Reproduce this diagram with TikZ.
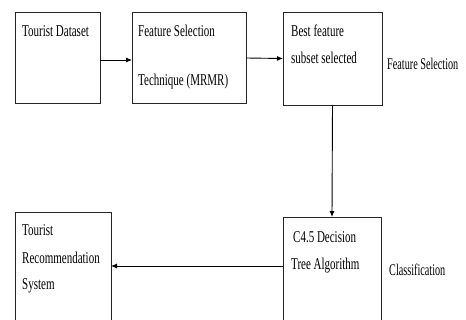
\documentclass[tikz,border=0pt]{standalone}
\usepackage{fontspec}
\setmainfont{Liberation Serif}
\usetikzlibrary{arrows.meta}
\newcommand{\tallt}[1]{\scalebox{1}[1.5]{#1}}
\newcommand{\tallside}[1]{\scalebox{1}[1.6]{#1}}
\begin{document}
\begin{tikzpicture}[x=1pt,y=-1pt,
  boxstyle/.style={draw=black!85,line width=0.9pt,inner sep=0pt,outer sep=0pt},
  txt/.style={anchor=base west,inner sep=0pt,font=\fontsize{11}{13}\selectfont},
  sidetxt/.style={anchor=base west,inner sep=0pt,font=\fontsize{10.2}{12}\selectfont},
  conn/.style={line width=0.9pt,-{Latex[length=6pt,width=5pt]}}]
\useasboundingbox (0,0) rectangle (466,320);
\clip (0,0) rectangle (466,320);
% boxes
\path[boxstyle] (15,12) rectangle (100,103);
\node[minimum width=85pt,minimum height=91pt,inner sep=0pt,outer sep=0pt] (b1) at (57.5,58) {};
\path[boxstyle] (132,12) rectangle (246,103);
\node[minimum width=114pt,minimum height=91pt,inner sep=0pt,outer sep=0pt] (b2) at (189,58) {};
\path[boxstyle] (283,12) rectangle (382,105);
\node[minimum width=99pt,minimum height=93pt,inner sep=0pt,outer sep=0pt] (b3) at (332.5,58.5) {};
\path[boxstyle] (15,212) rectangle (111,340);
\node[minimum width=96pt,minimum height=108pt,inner sep=0pt,outer sep=0pt] (b4) at (63,266) {};
\path[boxstyle] (283,217) rectangle (381,340);
\node[minimum width=98pt,minimum height=98pt,inner sep=0pt,outer sep=0pt] (b5) at (332,266) {};
% texts
\node[txt] (t1) at (22,37) {\tallt{Tourist Dataset}};
\node[txt] (t2a) at (138,37) {\tallt{Feature Selection}};
\node[txt] (t2b) at (138,86) {\tallt{Technique (MRMR)}};
\node[txt] (t3a) at (291,37) {\tallt{Best feature}};
\node[txt] (t3b) at (291,64) {\tallt{subset selected}};
\node[txt] (t4a) at (22,236) {\tallt{Tourist}};
\node[txt] (t4b) at (22,264) {\tallt{Recommendation}};
\node[txt] (t4c) at (22,290) {\tallt{System}};
\node[txt] (t5a) at (293,243) {\tallt{C4.5 Decision}};
\node[txt] (t5b) at (291,270) {\tallt{Tree Algorithm}};
\node[sidetxt] (s1) at (387,70) {\tallside{Feature Selection}};
\node[sidetxt] (s2) at (389,276) {\tallside{Classification}};
% connectors
\draw[conn] ([yshift=-2pt]b1.east) -- ([yshift=-2pt]b2.west);
\draw[conn] (b2.east) -- (b3.west);
\draw[conn] (b3.south) -- (b5.north);
\draw[conn] (b5.west) -- (b4.east);
\end{tikzpicture}
\end{document}
